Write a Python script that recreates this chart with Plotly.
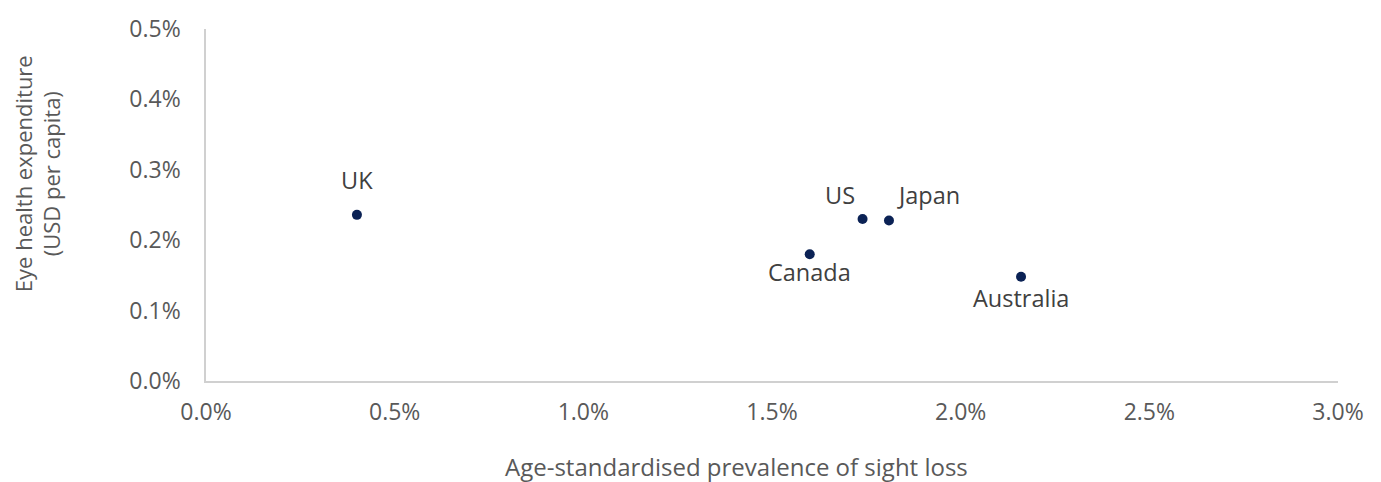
import plotly.graph_objects as go

countries = ["UK", "US", "Japan", "Canada", "Australia"]
prevalence = [0.0040, 0.0174, 0.0181, 0.0160, 0.0216]
expenditure = [0.00236, 0.00230, 0.00228, 0.00180, 0.00148]
x_title = "Age-standardised prevalence of sight loss"
y_title = "Eye health expenditure<br>(USD per capita)"

# label offsets (pixels) relative to each point
label_dx = [0, -23, 40, 0, 0]
label_dy = [35, 24, 25, -18, -21]

fig = go.Figure(go.Scatter(
    x=prevalence, y=expenditure, mode="markers",
    marker=dict(size=10, color="#0B2255"),
    showlegend=False, cliponaxis=False, hoverinfo="skip",
))

label_annots = [
    dict(text=c, x=xv, y=yv, xref="x", yref="y", showarrow=False,
         xanchor="center", yanchor="middle", xshift=dx, yshift=dy,
         font=dict(family="Open Sans", size=23.5, color="#404040"))
    for c, xv, yv, dx, dy in zip(countries, prevalence, expenditure, label_dx, label_dy)
]

axis_font = dict(family="Open Sans", size=23, color="#595959")
fig.update_layout(
    width=1381, height=482,
    margin=dict(l=206, r=43, t=22, b=101),
    plot_bgcolor="white", paper_bgcolor="white",
    font=axis_font,
    xaxis=dict(range=[0, 0.03], dtick=0.005, tickformat=".1%",
               showgrid=False, zeroline=False, showline=True, linecolor="#D0D0D0", linewidth=1.5,
               ticks="", ticklabelstandoff=10, tickfont=axis_font),
    yaxis=dict(range=[0, 0.005], dtick=0.001, tickformat=".1%",
               showgrid=False, zeroline=False, showline=True, linecolor="#D0D0D0", linewidth=1.5,
               ticks="", ticklabelstandoff=19, tickfont=axis_font),
    annotations=label_annots + [
        dict(text=x_title, xref="paper", yref="paper", x=0.469, y=-0.2423,
             xanchor="center", yanchor="middle", showarrow=False,
             font=dict(family="Open Sans", size=24, color="#595959")),
        dict(text=y_title, xref="paper", yref="paper", x=-0.1493, y=0.5905,
             xanchor="center", yanchor="middle", showarrow=False, textangle=-90,
             font=dict(family="Open Sans", size=22, color="#595959")),
    ],
)

fig.write_html("out.html", post_script="document.body.style.margin='0';",
               config={"displayModeBar": False})
